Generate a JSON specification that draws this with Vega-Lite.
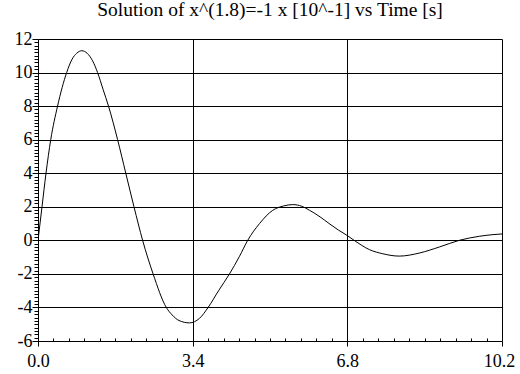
{
  "$schema": "https://vega.github.io/schema/vega-lite/v6.json",
  "autosize": {"type": "none"},
  "width": 464,
  "height": 302,
  "padding": {"left": 38, "top": 39, "right": 18, "bottom": 33},
  "background": "white",
  "title": {
    "text": "Solution of x^(1.8)=-1 x [10^-1] vs Time [s]",
    "font": "serif",
    "fontSize": 19.5,
    "fontWeight": "normal",
    "color": "black",
    "anchor": "middle",
    "offset": 10
  },
  "config": {
    "view": {"stroke": null},
    "axis": {
      "labelFont": "Times New Roman, serif",
      "labelColor": "black",
      "domainColor": "black",
      "tickColor": "black",
      "gridColor": "black",
      "gridWidth": 1,
      "tickWidth": 1,
      "domainWidth": 1,
      "title": null
    }
  },
  "data": {
    "values": [
      {"t": 0, "v": 0},
      {"t": 0.088, "v": 2.0},
      {"t": 0.176, "v": 4.0},
      {"t": 0.28, "v": 6.0},
      {"t": 0.43, "v": 8.0},
      {"t": 0.53, "v": 9.1},
      {"t": 0.63, "v": 10.0},
      {"t": 0.75, "v": 10.8},
      {"t": 0.85, "v": 11.15},
      {"t": 0.965, "v": 11.3},
      {"t": 1.08, "v": 11.15},
      {"t": 1.2, "v": 10.7},
      {"t": 1.31, "v": 10.0},
      {"t": 1.43, "v": 9.0},
      {"t": 1.55, "v": 8.0},
      {"t": 1.75, "v": 6.0},
      {"t": 1.93, "v": 4.0},
      {"t": 2.11, "v": 2.0},
      {"t": 2.3, "v": 0.0},
      {"t": 2.53, "v": -2.0},
      {"t": 2.82, "v": -4.0},
      {"t": 2.95, "v": -4.45},
      {"t": 3.1, "v": -4.78},
      {"t": 3.33, "v": -4.92},
      {"t": 3.55, "v": -4.65},
      {"t": 3.74, "v": -4.0},
      {"t": 3.97, "v": -3.0},
      {"t": 4.21, "v": -2.0},
      {"t": 4.43, "v": -0.95},
      {"t": 4.61, "v": 0.0},
      {"t": 4.87, "v": 1.0},
      {"t": 5.16, "v": 1.79},
      {"t": 5.4, "v": 2.05},
      {"t": 5.6, "v": 2.13},
      {"t": 5.8, "v": 2.03},
      {"t": 5.97, "v": 1.79},
      {"t": 6.2, "v": 1.4},
      {"t": 6.4, "v": 1.0},
      {"t": 6.6, "v": 0.62},
      {"t": 6.79, "v": 0.3},
      {"t": 6.95, "v": 0.0},
      {"t": 7.29, "v": -0.56},
      {"t": 7.58, "v": -0.8},
      {"t": 7.94, "v": -0.94},
      {"t": 8.38, "v": -0.76},
      {"t": 8.82, "v": -0.4},
      {"t": 9.26, "v": 0.0},
      {"t": 9.7, "v": 0.24},
      {"t": 10.0, "v": 0.34},
      {"t": 10.2, "v": 0.38}
    ]
  },
  "mark": {"type": "line", "color": "black", "strokeWidth": 1, "interpolate": "monotone", "clip": true},
  "encoding": {
    "x": {
      "field": "t",
      "type": "quantitative",
      "scale": {"domain": [0, 10.2], "nice": false, "zero": false},
      "axis": {
        "values": [0, 0.34, 0.68, 1.02, 1.36, 1.7, 2.04, 2.38, 2.72, 3.06, 3.4, 3.74, 4.08, 4.42, 4.76, 5.1, 5.44, 5.78, 6.12, 6.46, 6.8, 7.14, 7.48, 7.82, 8.16, 8.5, 8.84, 9.18, 9.52, 9.86, 10.2],
        "labelExpr": "abs(datum.value / 3.4 - round(datum.value / 3.4)) < 0.001 ? format(datum.value, '.1f') : ''",
        "labelFontSize": 18,
        "labelPadding": 6,
        "labelFlush": false,
        "labelOverlap": false,
        "labelOffset": {"condition": {"test": "datum.value > 10", "value": -3}, "value": 0},
        "tickSize": {"condition": {"test": "abs(datum.value / 3.4 - round(datum.value / 3.4)) < 0.001", "value": 5}, "value": -3},
        "gridOpacity": {"condition": {"test": "abs(datum.value / 3.4 - round(datum.value / 3.4)) < 0.001", "value": 1}, "value": 0}
      }
    },
    "y": {
      "field": "v",
      "type": "quantitative",
      "scale": {"domain": [-6, 12], "nice": false, "zero": false},
      "axis": {
        "values": [-6, -5.8, -5.6, -5.4, -5.2, -5, -4.8, -4.6, -4.4, -4.2, -4, -3.8, -3.6, -3.4, -3.2, -3, -2.8, -2.6, -2.4, -2.2, -2, -1.8, -1.6, -1.4, -1.2, -1, -0.8, -0.6, -0.4, -0.2, 0, 0.2, 0.4, 0.6, 0.8, 1, 1.2, 1.4, 1.6, 1.8, 2, 2.2, 2.4, 2.6, 2.8, 3, 3.2, 3.4, 3.6, 3.8, 4, 4.2, 4.4, 4.6, 4.8, 5, 5.2, 5.4, 5.6, 5.8, 6, 6.2, 6.4, 6.6, 6.8, 7, 7.2, 7.4, 7.6, 7.8, 8, 8.2, 8.4, 8.6, 8.8, 9, 9.2, 9.4, 9.6, 9.8, 10, 10.2, 10.4, 10.6, 10.8, 11, 11.2, 11.4, 11.6, 11.8, 12],
        "labelExpr": "abs(datum.value / 2 - round(datum.value / 2)) < 0.001 ? toString(round(datum.value)) : ''",
        "labelFontSize": 18,
        "labelPadding": 0,
        "labelFlush": false,
        "labelOverlap": false,
        "tickSize": {"condition": {"test": "abs(datum.value / 2 - round(datum.value / 2)) < 0.001", "value": 6}, "value": 4},
        "gridOpacity": {"condition": {"test": "abs(datum.value / 2 - round(datum.value / 2)) < 0.001", "value": 1}, "value": 0}
      }
    }
  }
}
